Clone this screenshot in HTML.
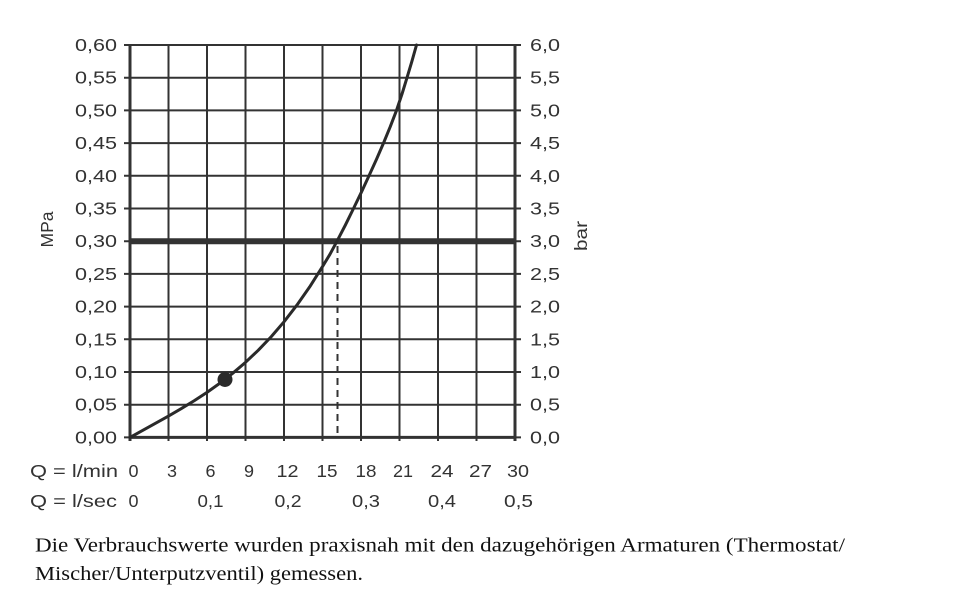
<!DOCTYPE html>
<html><head><meta charset="utf-8">
<style>
html,body{margin:0;padding:0;background:#fff;}
svg{display:block;}
text{font-family:"Liberation Sans",sans-serif;fill:#333;}
.s{font-family:"Liberation Serif",serif;fill:#111;}
</style></head>
<body>
<svg width="960" height="612" viewBox="0 0 960 612" xmlns="http://www.w3.org/2000/svg">
<g stroke="#333" stroke-width="2" fill="none">
  <line x1="168.5" y1="45" x2="168.5" y2="441"/>
  <line x1="207" y1="45" x2="207" y2="441"/>
  <line x1="245.5" y1="45" x2="245.5" y2="441"/>
  <line x1="284" y1="45" x2="284" y2="441"/>
  <line x1="322.5" y1="45" x2="322.5" y2="441"/>
  <line x1="361" y1="45" x2="361" y2="441"/>
  <line x1="399.5" y1="45" x2="399.5" y2="441"/>
  <line x1="438" y1="45" x2="438" y2="441"/>
  <line x1="476.5" y1="45" x2="476.5" y2="441"/>
  <line x1="124" y1="45" x2="521" y2="45"/>
  <line x1="124" y1="77.7" x2="521" y2="77.7"/>
  <line x1="124" y1="110.4" x2="521" y2="110.4"/>
  <line x1="124" y1="143.1" x2="521" y2="143.1"/>
  <line x1="124" y1="175.8" x2="521" y2="175.8"/>
  <line x1="124" y1="208.5" x2="521" y2="208.5"/>
  <line x1="124" y1="241.2" x2="521" y2="241.2"/>
  <line x1="124" y1="273.9" x2="521" y2="273.9"/>
  <line x1="124" y1="306.6" x2="521" y2="306.6"/>
  <line x1="124" y1="339.3" x2="521" y2="339.3"/>
  <line x1="124" y1="372" x2="521" y2="372"/>
  <line x1="124" y1="404.7" x2="521" y2="404.7"/>
  <line x1="124" y1="437.4" x2="521" y2="437.4"/>
</g>
<g stroke="#333" stroke-width="3" fill="none">
  <line x1="130" y1="44" x2="130" y2="441"/>
  <line x1="515" y1="44" x2="515" y2="441"/>
  <line x1="129" y1="437.4" x2="516" y2="437.4"/>
</g>
<line x1="130" y1="241.2" x2="515" y2="241.2" stroke="#333" stroke-width="6"/>
<line x1="337.5" y1="246" x2="337.5" y2="437" stroke="#333" stroke-width="2" stroke-dasharray="7 5"/>
<polyline fill="none" stroke="#2a2a2a" stroke-width="3" stroke-linejoin="round" stroke-linecap="round"
 points="130,437.4 142.83,430.27 155.67,423.19 168.5,416.01 181.33,408.58 194.17,400.75 207,392.36 219.83,383.26 232.67,373.3 245.5,362.33 258.33,350.19 271.17,336.73 284,321.79 296.83,305.23 309.67,286.9 322.5,266.6 330,254.2 337,241.2 345.4,225 353.5,208.5 361.4,192.2 369,175.8 376.4,159.5 383.5,143.1 390.2,126.8 396.5,110.4 402,94 407,77.7 411.9,61.3 416.5,45"/>
<circle cx="225" cy="379.5" r="7.5" fill="#2a2a2a"/>

<g font-size="17.5" text-anchor="end">
  <text x="117" y="51" textLength="42" lengthAdjust="spacingAndGlyphs">0,60</text>
  <text x="117" y="83.7" textLength="42" lengthAdjust="spacingAndGlyphs">0,55</text>
  <text x="117" y="116.4" textLength="42" lengthAdjust="spacingAndGlyphs">0,50</text>
  <text x="117" y="149.1" textLength="42" lengthAdjust="spacingAndGlyphs">0,45</text>
  <text x="117" y="181.8" textLength="42" lengthAdjust="spacingAndGlyphs">0,40</text>
  <text x="117" y="214.5" textLength="42" lengthAdjust="spacingAndGlyphs">0,35</text>
  <text x="117" y="247.2" textLength="42" lengthAdjust="spacingAndGlyphs">0,30</text>
  <text x="117" y="279.9" textLength="42" lengthAdjust="spacingAndGlyphs">0,25</text>
  <text x="117" y="312.6" textLength="42" lengthAdjust="spacingAndGlyphs">0,20</text>
  <text x="117" y="345.3" textLength="42" lengthAdjust="spacingAndGlyphs">0,15</text>
  <text x="117" y="378" textLength="42" lengthAdjust="spacingAndGlyphs">0,10</text>
  <text x="117" y="410.7" textLength="42" lengthAdjust="spacingAndGlyphs">0,05</text>
  <text x="117" y="443.4" textLength="42" lengthAdjust="spacingAndGlyphs">0,00</text>
</g>
<g font-size="17.5">
  <text x="530" y="51" textLength="30" lengthAdjust="spacingAndGlyphs">6,0</text>
  <text x="530" y="83.7" textLength="30" lengthAdjust="spacingAndGlyphs">5,5</text>
  <text x="530" y="116.4" textLength="30" lengthAdjust="spacingAndGlyphs">5,0</text>
  <text x="530" y="149.1" textLength="30" lengthAdjust="spacingAndGlyphs">4,5</text>
  <text x="530" y="181.8" textLength="30" lengthAdjust="spacingAndGlyphs">4,0</text>
  <text x="530" y="214.5" textLength="30" lengthAdjust="spacingAndGlyphs">3,5</text>
  <text x="530" y="247.2" textLength="30" lengthAdjust="spacingAndGlyphs">3,0</text>
  <text x="530" y="279.9" textLength="30" lengthAdjust="spacingAndGlyphs">2,5</text>
  <text x="530" y="312.6" textLength="30" lengthAdjust="spacingAndGlyphs">2,0</text>
  <text x="530" y="345.3" textLength="30" lengthAdjust="spacingAndGlyphs">1,5</text>
  <text x="530" y="378" textLength="30" lengthAdjust="spacingAndGlyphs">1,0</text>
  <text x="530" y="410.7" textLength="30" lengthAdjust="spacingAndGlyphs">0,5</text>
  <text x="530" y="443.4" textLength="30" lengthAdjust="spacingAndGlyphs">0,0</text>
</g>
<text font-size="17.5" transform="translate(53,229.5) rotate(-90)" text-anchor="middle" textLength="36" lengthAdjust="spacingAndGlyphs">MPa</text>
<text font-size="17.5" transform="translate(587,236) rotate(-90)" text-anchor="middle" textLength="30" lengthAdjust="spacingAndGlyphs">bar</text>

<g font-size="17.5">
  <text x="30" y="477" textLength="88" lengthAdjust="spacingAndGlyphs">Q = l/min</text>
</g>
<g font-size="17.5" text-anchor="middle">
  <text x="133.5" y="477" textLength="10" lengthAdjust="spacingAndGlyphs">0</text>
  <text x="172" y="477" textLength="10" lengthAdjust="spacingAndGlyphs">3</text>
  <text x="210.5" y="477" textLength="10" lengthAdjust="spacingAndGlyphs">6</text>
  <text x="249" y="477" textLength="10" lengthAdjust="spacingAndGlyphs">9</text>
  <text x="287.5" y="477" textLength="22" lengthAdjust="spacingAndGlyphs">12</text>
  <text x="327" y="477" textLength="21" lengthAdjust="spacingAndGlyphs">15</text>
  <text x="366" y="477" textLength="21" lengthAdjust="spacingAndGlyphs">18</text>
  <text x="403" y="477" textLength="20" lengthAdjust="spacingAndGlyphs">21</text>
  <text x="442" y="477" textLength="23" lengthAdjust="spacingAndGlyphs">24</text>
  <text x="480.5" y="477" textLength="23" lengthAdjust="spacingAndGlyphs">27</text>
  <text x="518" y="477" textLength="22" lengthAdjust="spacingAndGlyphs">30</text>
</g>
<g font-size="17.5">
  <text x="30" y="507" textLength="87" lengthAdjust="spacingAndGlyphs">Q = l/sec</text>
</g>
<g font-size="17.5" text-anchor="middle">
  <text x="133.5" y="507" textLength="10" lengthAdjust="spacingAndGlyphs">0</text>
  <text x="210.5" y="507" textLength="26" lengthAdjust="spacingAndGlyphs">0,1</text>
  <text x="288" y="507" textLength="27" lengthAdjust="spacingAndGlyphs">0,2</text>
  <text x="366" y="507" textLength="28" lengthAdjust="spacingAndGlyphs">0,3</text>
  <text x="442" y="507" textLength="28" lengthAdjust="spacingAndGlyphs">0,4</text>
  <text x="518.5" y="507" textLength="29" lengthAdjust="spacingAndGlyphs">0,5</text>
</g>

<text class="s" x="35" y="551.5" font-size="20" textLength="810" lengthAdjust="spacingAndGlyphs">Die Verbrauchswerte wurden praxisnah mit den dazugehörigen Armaturen (Thermostat/</text>
<text class="s" x="35" y="580" font-size="20" textLength="328" lengthAdjust="spacingAndGlyphs">Mischer/Unterputzventil) gemessen.</text>
</svg>
</body></html>
